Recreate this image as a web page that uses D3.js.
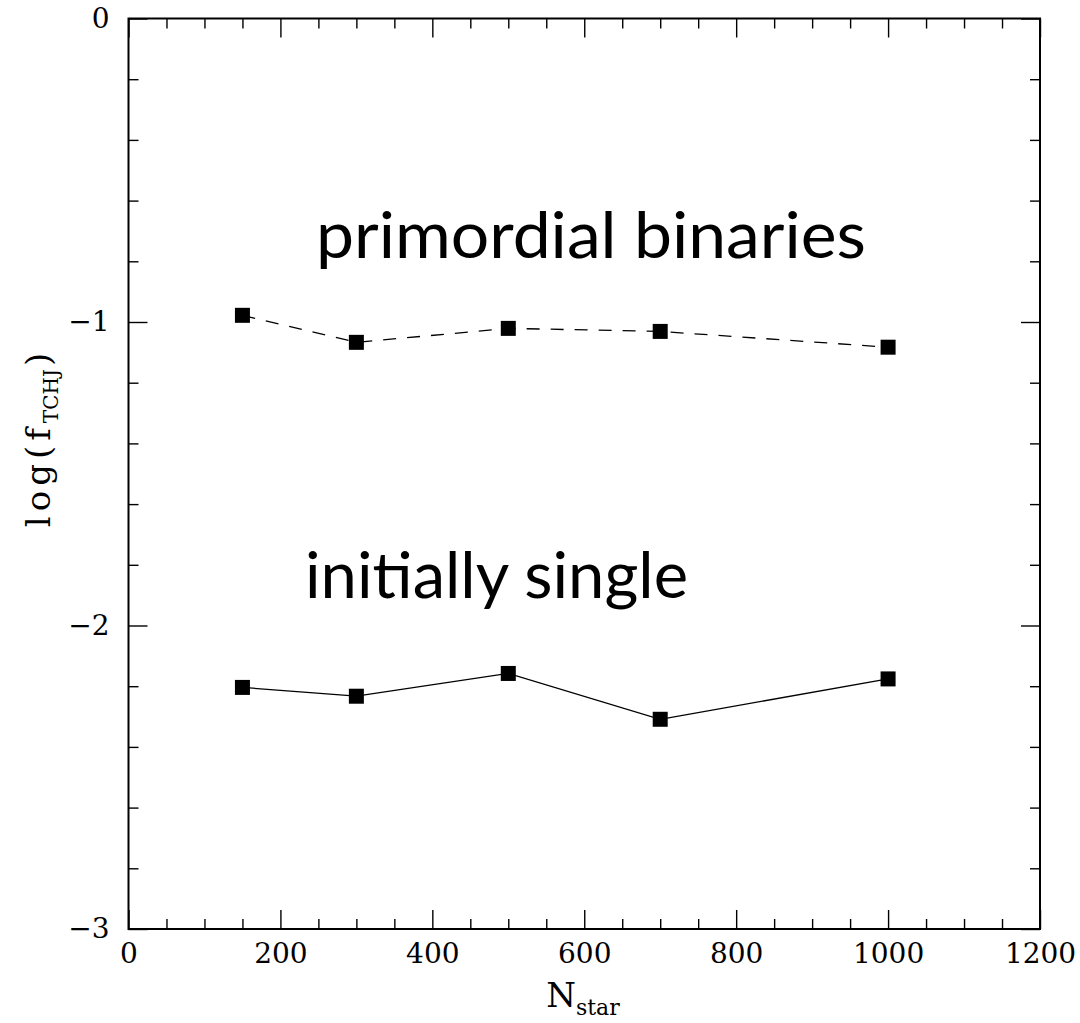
<!DOCTYPE html>
<html><head><meta charset="utf-8">
<script src="https://cdn.jsdelivr.net/npm/d3@7"></script>
<style>
html,body{margin:0;padding:0;background:#fff;}
svg{display:block;}
</style>
</head><body>
<svg id="c" width="1080" height="1023"></svg>
<script>
// ---- data ----
const nStar = [150, 300, 500, 700, 1000];
const primordialBinaries = [-0.978, -1.067, -1.021, -1.031, -1.083];
const initiallySingle = [-2.204, -2.233, -2.158, -2.309, -2.176];
const xMajorTicks = [0, 200, 400, 600, 800, 1000, 1200];
const yMajorTicks = [0, -1, -2, -3];
const seriesLabels = ["primordial binaries", "initially single"];

const svg = d3.select("#c");
const L = 128.5, R = 1040, T = 18.5, B = 929;
const x = d3.scaleLinear().domain([0, 1200]).range([L, R]);
const y = d3.scaleLinear().domain([0, -3]).range([T, B]);

const serif = "'DejaVu Serif', 'Liberation Serif', serif";
const xMinor = d3.range(0, 1201, 50).filter(v => v % 200 !== 0);
const yMinor = d3.range(0, 16).map(i => -i * 0.2).filter(v => Math.abs(v - Math.round(v)) > 1e-6);

function styleAxis(g) {
  g.select(".domain").remove();
  g.selectAll("line").attr("stroke", "#000").attr("stroke-width", 1.4);
  g.selectAll("text").attr("font-family", serif).attr("font-size", 28).attr("fill", "#000");
}

// bottom
svg.append("g").attr("transform", `translate(0,${B})`)
  .call(d3.axisBottom(x).tickValues(xMajorTicks).tickSize(-19).tickPadding(14).tickFormat(d3.format("d")))
  .call(styleAxis);
svg.append("g").attr("transform", `translate(0,${B})`)
  .call(d3.axisBottom(x).tickValues(xMinor).tickSize(-10).tickFormat(""))
  .call(styleAxis);
// top
svg.append("g").attr("transform", `translate(0,${T})`)
  .call(d3.axisTop(x).tickValues(xMajorTicks).tickSize(-19).tickFormat(""))
  .call(styleAxis);
svg.append("g").attr("transform", `translate(0,${T})`)
  .call(d3.axisTop(x).tickValues(xMinor).tickSize(-10).tickFormat(""))
  .call(styleAxis);
// left
svg.append("g").attr("transform", `translate(${L},0)`)
  .call(d3.axisLeft(y).tickValues(yMajorTicks).tickSize(-19).tickPadding(19)
    .tickFormat(d => d < 0 ? "\u2212" + Math.abs(d) : String(d)))
  .call(styleAxis);
svg.append("g").attr("transform", `translate(${L},0)`)
  .call(d3.axisLeft(y).tickValues(yMinor).tickSize(-10).tickFormat(""))
  .call(styleAxis);
// right
svg.append("g").attr("transform", `translate(${R},0)`)
  .call(d3.axisRight(y).tickValues(yMajorTicks).tickSize(-19).tickFormat(""))
  .call(styleAxis);
svg.append("g").attr("transform", `translate(${R},0)`)
  .call(d3.axisRight(y).tickValues(yMinor).tickSize(-10).tickFormat(""))
  .call(styleAxis);

// frame
svg.append("rect").attr("x", L).attr("y", T).attr("width", R - L).attr("height", B - T)
  .attr("fill", "none").attr("stroke", "#000").attr("stroke-width", 2);

// lines
const line = d3.line().x(d => x(d[0])).y(d => y(d[1]));
const pb = nStar.map((n, i) => [n, primordialBinaries[i]]);
const is = nStar.map((n, i) => [n, initiallySingle[i]]);
svg.append("path").datum(pb).attr("d", line).attr("fill", "none")
  .attr("stroke", "#000").attr("stroke-width", 1.3).attr("stroke-dasharray", "13,11");
svg.append("path").datum(is).attr("d", line).attr("fill", "none")
  .attr("stroke", "#000").attr("stroke-width", 1.3);

const S = 15;
[pb, is].forEach(ser => {
  svg.append("g").selectAll("rect").data(ser).join("rect")
    .attr("x", d => x(d[0]) - S / 2).attr("y", d => y(d[1]) - S / 2)
    .attr("width", S).attr("height", S).attr("fill", "#000");
});

// series labels
const sans = "Lato, 'Open Sans', sans-serif";
svg.append("text").attr("x", 316).attr("y", 258).attr("font-family", sans).attr("font-size", 63)
  .attr("textLength", 550).attr("lengthAdjust", "spacingAndGlyphs").text(seriesLabels[0]);
svg.append("text").attr("x", 305).attr("y", 598).attr("font-family", sans).attr("font-size", 63)
  .attr("textLength", 383).attr("lengthAdjust", "spacingAndGlyphs").text(seriesLabels[1]);

// axis titles
const xt = svg.append("text").attr("x", 583).attr("y", 1007).attr("text-anchor", "middle")
  .attr("font-family", serif).attr("font-size", 34);
xt.append("tspan").text("N");
xt.append("tspan").attr("font-size", 22).attr("dy", 8).text("star");

const yt = svg.append("text").attr("transform", "translate(50,440) rotate(-90)")
  .attr("text-anchor", "middle").attr("font-family", serif).attr("font-size", 34);
yt.append("tspan").attr("letter-spacing", 5).text("log(f");
yt.append("tspan").attr("font-size", 20).attr("dy", 8).text("TCHJ");
yt.append("tspan").attr("dy", -8).attr("dx", 3).text(")");
</script>
</body></html>
